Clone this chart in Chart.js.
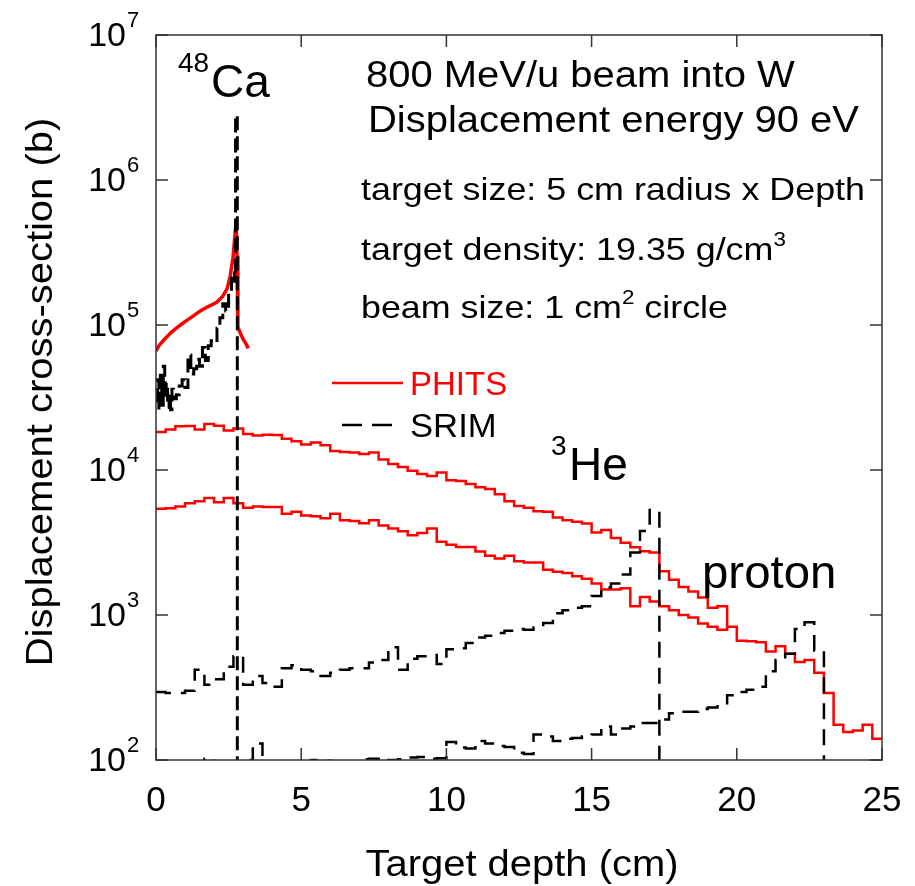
<!DOCTYPE html>
<html>
<head>
<meta charset="utf-8">
<title>Displacement cross-section vs target depth</title>
<script src="https://cdn.jsdelivr.net/npm/chart.js"></script>
<style>
  html, body { margin: 0; padding: 0; background: #fff; }
  #wrap { width: 915px; height: 886px; }
</style>
</head>
<body>
<div id="wrap"><canvas id="chart"></canvas></div>
<script>
// histogram bin width (cm) of the 3He / proton results
const binWidth = 1 / 3;

// 48Ca, PHITS (fine resolution, drawn as a plain line)
const caPhitsDepth = [0, 0.1, 0.3, 0.5, 0.7, 0.9, 1.1, 1.3, 1.5, 1.7, 1.9, 2.1, 2.3, 2.45, 2.55, 2.65, 2.72, 2.76, 2.79, 2.82, 2.9, 3.0, 3.1, 3.18];
const caPhits = [66000, 72000, 80000, 88000, 95000, 102000, 109000, 116000, 124000, 131000, 137000, 144000, 158000, 178000, 215000, 290000, 420000, 520000, 300000, 97000, 88000, 80000, 74000, 69000];

// 48Ca, SRIM (bin left edges)
const caSrimDepth = [0, 0.05, 0.1, 0.15, 0.2, 0.25, 0.3, 0.35, 0.4, 0.45, 0.5, 0.55, 0.6, 0.7, 0.8, 0.9, 1.0, 1.1, 1.2, 1.3, 1.4, 1.5, 1.6, 1.7, 1.8, 1.9, 2.0, 2.1, 2.2, 2.3, 2.4, 2.5, 2.6, 2.7, 2.74, 2.8];
const caSrim = [30000, 42000, 26000, 45000, 28000, 52000, 31000, 40000, 27000, 33000, 26000, 36000, 31000, 33000, 38000, 42000, 37000, 62000, 46000, 50000, 58000, 52000, 70000, 57000, 72000, 78000, 76000, 95000, 112000, 140000, 125000, 170000, 230000, 200000, 2800000, 10];

// 3He, PHITS (one value per bin)
const heliumPhits = [18300, 19000, 20000, 20100, 19000, 20800, 20200, 18700, 19300, 17700,
  17300, 17500, 17400, 16400, 15800, 15000, 15500, 14800, 13500, 13300,
  13200, 12900, 13200, 11800, 11000, 10500, 9900, 9400, 9100, 9600,
  8500, 8400, 8000, 7600, 7400, 6800, 6100, 5650, 5500, 5200,
  5150, 4700, 4500, 4400, 4280, 3700, 3850, 3400, 3150, 2930,
  2750, 2700, 2000, 1750, 1560, 1450, 1320, 1120, 1150];
const heliumPhitsEnd = 830;

// proton, PHITS
const protonPhits = [5400, 5450, 5600, 5900, 6100, 6400, 6000, 6400, 5900, 5500,
  5600, 5550, 5550, 5000, 5150, 4850, 4800, 4650, 5000, 4500,
  4450, 4300, 4500, 4150, 3950, 3780, 3550, 3680, 3950, 3200,
  3050, 2950, 2950, 2740, 2560, 2450, 2560, 2350, 2300, 2300,
  2050, 1990, 1950, 1850, 1780, 1650, 1500, 1500, 1530, 1150,
  1330, 1240, 1150, 1080, 1000, 960, 875, 830, 790, 830,
  665, 660, 650, 560, 610, 540, 475, 490, 400, 290,
  175, 156, 160, 175, 140];

// 3He, SRIM
const heliumSrim = [295, 290, 290, 300, 420, 330, 360, 440, 520, 330,
  380, 340, 320, 430, 450, 420, 410, 380, 400, 420,
  430, 430, 470, 490, 600, 420, 500, 520, 530, 460,
  580, 590, 640, 700, 720, 750, 780, 800, 790, 820,
  880, 1030, 1080, 1120, 1150, 1350, 1550, 1650, 1900, 2700,
  3800, 5300, 30];

// proton, SRIM
const protonSrim = [85, 80, 85, 90, 95, 102, 92, 88, 90, 100,
  130, 95, 90, 88, 92, 90, 100, 99, 92, 90,
  95, 101, 102, 97, 100, 101, 104, 105, 102, 103,
  133, 122, 120, 135, 130, 125, 123, 112, 110, 150,
  145, 135, 140, 142, 145, 150, 170, 150, 165, 170,
  180, 180, 190, 210, 215, 215, 225, 230, 235, 280,
  295, 305, 320, 410, 490, 540, 800, 890, 570, 30];

// axes
const xTickValues = [0, 5, 10, 15, 20, 25];
const yTickExponents = [2, 3, 4, 5, 6, 7];

const legendLabels = ['PHITS', 'SRIM'];
const RED = '#ff0000';
const FONT = '"Liberation Sans", Arial, Helvetica, sans-serif';

function histogram(values, endValue) {
  const pts = values.map((v, i) => ({ x: i * binWidth, y: v }));
  const last = endValue !== undefined ? endValue : values[values.length - 1];
  pts.push({ x: values.length * binWidth, y: last });
  return pts;
}

function pairs(xs, ys) {
  return xs.map((x, i) => ({ x: x, y: ys[i] }));
}

// draw a list of text runs (normal text, superscripts), stretched sideways by k
function runs(ctx, x, y, parts, color, k) {
  ctx.save();
  ctx.translate(x, y);
  ctx.scale(k || 1, 1);
  ctx.fillStyle = color || '#000';
  ctx.textAlign = 'left';
  ctx.textBaseline = 'alphabetic';
  let cx = 0;
  parts.forEach(p => {
    ctx.font = p.size + 'px ' + FONT;
    ctx.fillText(p.t, cx, p.dy || 0);
    cx += ctx.measureText(p.t).width;
  });
  ctx.restore();
}

function centred(ctx, str, x, y, size, k, angle) {
  ctx.save();
  ctx.translate(x, y);
  if (angle) ctx.rotate(angle);
  ctx.scale(k, 1);
  ctx.font = size + 'px ' + FONT;
  ctx.fillStyle = '#000';
  ctx.textAlign = 'center';
  ctx.textBaseline = 'alphabetic';
  ctx.fillText(str, 0, 0);
  ctx.restore();
}

const overlay = {
  id: 'overlay',
  afterDatasetsDraw(chart) {
    const ctx = chart.ctx;
    const a = chart.chartArea;
    const xs = chart.scales.x;
    const ys = chart.scales.y;
    ctx.save();

    // frame and inward ticks
    ctx.strokeStyle = '#333';
    ctx.lineWidth = 1.5;
    ctx.strokeRect(a.left, a.top, a.right - a.left, a.bottom - a.top);
    ctx.beginPath();
    xTickValues.forEach(v => {
      const px = xs.getPixelForValue(v);
      ctx.moveTo(px, a.bottom); ctx.lineTo(px, a.bottom - 12);
      ctx.moveTo(px, a.top); ctx.lineTo(px, a.top + 12);
    });
    yTickExponents.forEach(e => {
      const py = ys.getPixelForValue(Math.pow(10, e));
      ctx.moveTo(a.left, py); ctx.lineTo(a.left + 12, py);
      ctx.moveTo(a.right, py); ctx.lineTo(a.right - 12, py);
    });
    ctx.stroke();

    // tick labels
    xTickValues.forEach(v => {
      centred(ctx, String(v), xs.getPixelForValue(v), 811, 35, 1);
    });
    ctx.fillStyle = '#000';
    yTickExponents.forEach(e => {
      const py = ys.getPixelForValue(Math.pow(10, e));
      ctx.font = '34px ' + FONT;
      ctx.textAlign = 'right';
      ctx.fillText('10', 126, py + 11);
      ctx.font = '22px ' + FONT;
      ctx.textAlign = 'left';
      ctx.fillText(String(e), 127, py - 8);
    });

    // axis titles
    centred(ctx, 'Target depth (cm)', 522, 876, 37, 1.08);
    centred(ctx, 'Displacement cross-section (b)', 52, 392, 37, 1.08, -Math.PI / 2);

    // beam / target notes
    runs(ctx, 366, 87, [{ t: '800 MeV/u beam into W', size: 36 }], '#000', 1.11);
    runs(ctx, 368, 132, [{ t: 'Displacement energy 90 eV', size: 36 }], '#000', 1.11);
    runs(ctx, 361, 200, [{ t: 'target size: 5 cm radius x Depth', size: 32 }], '#000', 1.12);
    runs(ctx, 361, 260, [{ t: 'target density: 19.35 g/cm', size: 32 }, { t: '3', size: 20, dy: -14 }], '#000', 1.12);
    runs(ctx, 361, 318, [{ t: 'beam size: 1 cm', size: 32 }, { t: '2', size: 20, dy: -14 }, { t: ' circle', size: 32 }], '#000', 1.12);

    // particle labels
    runs(ctx, 178, 72, [{ t: '48', size: 28 }]);
    runs(ctx, 211, 97, [{ t: 'Ca', size: 46 }]);
    runs(ctx, 551, 455, [{ t: '3', size: 28 }]);
    runs(ctx, 569, 480, [{ t: 'He', size: 46 }]);
    runs(ctx, 702, 588, [{ t: 'proton', size: 46 }], '#000', 1.03);

    // legend
    ctx.lineWidth = 2.5;
    ctx.strokeStyle = RED;
    ctx.beginPath(); ctx.moveTo(332, 383); ctx.lineTo(403, 383); ctx.stroke();
    ctx.strokeStyle = '#000';
    ctx.setLineDash([20, 10]);
    ctx.beginPath(); ctx.moveTo(342, 425); ctx.lineTo(398, 425); ctx.stroke();
    ctx.setLineDash([]);
    runs(ctx, 410, 395, [{ t: legendLabels[0], size: 33 }], RED);
    runs(ctx, 410, 437, [{ t: legendLabels[1], size: 33 }], '#000', 1.05);

    ctx.restore();
  }
};

const common = { pointRadius: 0, borderWidth: 2.5, fill: false, tension: 0, clip: 0 };
const srimStyle = Object.assign({ borderColor: '#000', borderDash: [16, 10], stepped: true }, common);
const phitsStyle = Object.assign({ borderColor: RED, stepped: true }, common);

new Chart(document.getElementById('chart'), {
  type: 'line',
  data: {
    datasets: [
      Object.assign({ label: legendLabels[1], data: pairs(caSrimDepth, caSrim) }, srimStyle, { borderWidth: 3, borderDash: [14, 6] }),
      Object.assign({ label: legendLabels[1], data: histogram(heliumSrim) }, srimStyle),
      Object.assign({ label: legendLabels[1], data: histogram(protonSrim) }, srimStyle),
      Object.assign({ label: legendLabels[0], data: pairs(caPhitsDepth, caPhits) }, phitsStyle, { stepped: false, borderWidth: 3.5 }),
      Object.assign({ label: legendLabels[0], data: histogram(heliumPhits, heliumPhitsEnd) }, phitsStyle),
      Object.assign({ label: legendLabels[0], data: histogram(protonPhits) }, phitsStyle)
    ]
  },
  options: {
    responsive: true,
    maintainAspectRatio: false,
    animation: false,
    devicePixelRatio: 1,
    layout: { padding: { left: 156, top: 35, right: 33, bottom: 126 } },
    plugins: { legend: { display: false }, tooltip: { enabled: false } },
    scales: {
      x: { type: 'linear', min: 0, max: 25, display: false },
      y: { type: 'logarithmic', min: 100, max: 1e7, display: false }
    }
  },
  plugins: [overlay]
});
</script>
</body>
</html>
